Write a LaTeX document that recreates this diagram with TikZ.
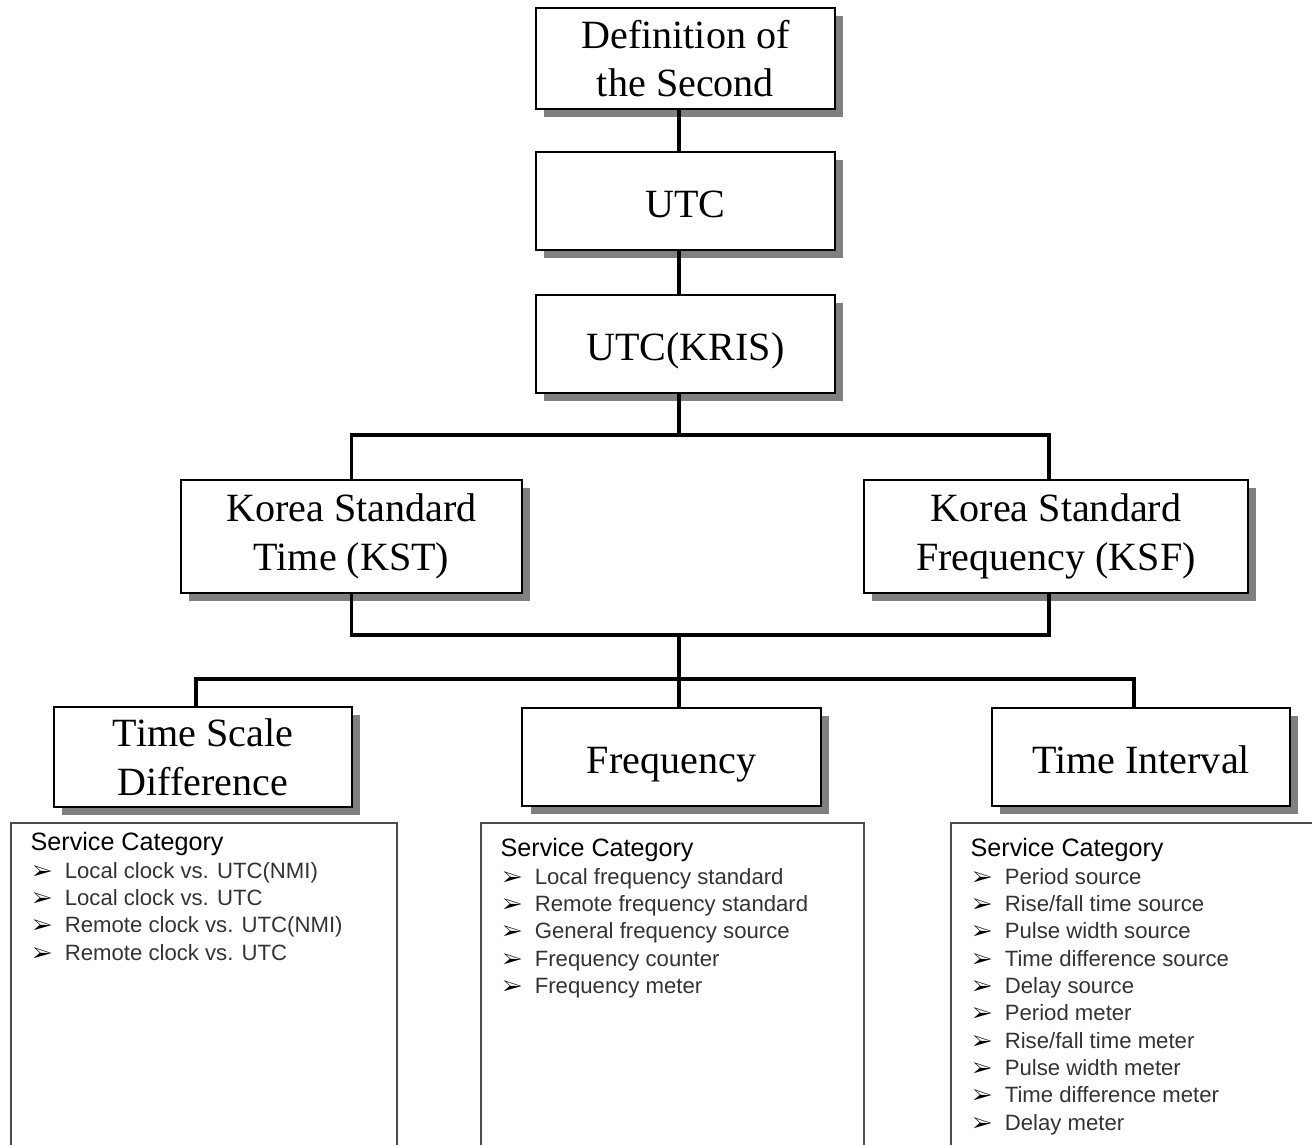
\documentclass[tikz,border=0pt]{standalone}
\usepackage{fontspec}
\usepackage{pifont}
\setmainfont{Liberation Serif}
\setsansfont{Liberation Sans}
\usetikzlibrary{shapes, arrows, shadows, calc, positioning}
\definecolor{shadowgrey}{rgb}{0.5, 0.5, 0.5}
\definecolor{listgrey}{rgb}{0.3, 0.3, 0.3}
\definecolor{itemgrey}{rgb}{0.2, 0.2, 0.2}
\newcommand{\svcitem}[1]{\\\hspace*{0.6pt}\makebox[9.1pt][l]{\fontsize{6}{6}\selectfont\ding{226}}{\fontsize{6.3}{7.77}\selectfont\color{itemgrey}#1}}

\begin{document}
\begin{tikzpicture}[x=0.01cm, y=-0.01cm,
    box/.style = {draw, line width=0.6pt, fill=white, align=center,
      font=\fontsize{11.4}{13.8}\selectfont,
      drop shadow={shadow xshift=2.3pt, shadow yshift=-2.3pt, fill=shadowgrey, opacity=1}},
    oneline/.style = {text height=10pt, text depth=0.8pt},
    listbox/.style = {draw=listgrey, line width=0.5pt, anchor=north west, minimum height=4cm},
    listtxt/.style = {anchor=north west, inner sep=0pt, align=left,
      font=\sffamily\fontsize{7.15}{7.77}\selectfont},
    link/.style = {line width=1pt}]
  \path[use as bounding box, clip] (0,0) rectangle (1312,1144);
  \begin{scope}[every node/.style = {minimum height=0.98cm}]
    \node[box, minimum width=2.99cm] (def) at (685.5,58.5) {Definition of\\the Second};
    \node[box, oneline, minimum width=2.99cm] (utc) at (685.5,201) {UTC};
    \node[box, oneline, minimum width=2.99cm] (kris) at (685.5,344) {UTC(KRIS)};
    \node[box, minimum width=3.41cm, minimum height=1.13cm] (kst) at (351.5,536.5) {Korea Standard\\Time (KST)};
    \node[box, minimum width=3.84cm, minimum height=1.13cm] (ksf) at (1056,536.5) {Korea Standard\\Frequency (KSF)};
    \node[box, minimum width=2.98cm] (tsd) at (203,757) {Time Scale\\Difference};
    \foreach \nm/\x/\txt in {freq/671.5/{Frequency}, ti/1141/{Time Interval}}{
      \node[box, oneline, minimum width=2.98cm] (\nm) at (\x,757) {\txt};
    }
  \end{scope}
  \node[listbox, minimum width=3.86cm] (tsdlist) at (10,822) {};
  \node[listbox, minimum width=3.83cm] (freqlist) at (480,822) {};
  \node[listbox, minimum width=3.9cm] (tilist) at (950,822) {};
  \node[listtxt] (tsdtxt) at (30,832) {Service Category
    \svcitem{Local clock vs. UTC(NMI)}
    \svcitem{Local clock vs. UTC}
    \svcitem{Remote clock vs. UTC(NMI)}
    \svcitem{Remote clock vs. UTC}};
  \node[listtxt] (freqtxt) at (500,838) {Service Category
    \svcitem{Local frequency standard}
    \svcitem{Remote frequency standard}
    \svcitem{General frequency source}
    \svcitem{Frequency counter}
    \svcitem{Frequency meter}};
  \node[listtxt] (titxt) at (970,838) {Service Category
    \svcitem{Period source}
    \svcitem{Rise/fall time source}
    \svcitem{Pulse width source}
    \svcitem{Time difference source}
    \svcitem{Delay source}
    \svcitem{Period meter}
    \svcitem{Rise/fall time meter}
    \svcitem{Pulse width meter}
    \svcitem{Time difference meter}
    \svcitem{Delay meter}};
  \coordinate (top) at (679,435);
  \coordinate (mid) at (679,635);
  \coordinate (low) at (679,679);
  \draw[link] (def.south -| top) -- (utc.north -| top);
  \draw[link] (utc.south -| top) -- (kris.north -| top);
  \draw[link] (kris.south -| top) -- (top);
  \draw[link] (kst.north) |- (top) -| ([xshift=-0.07cm]ksf.north);
  \draw[link] (kst.south) |- (mid) -| ([xshift=-0.07cm]ksf.south);
  \draw[link] (mid) -- (low);
  \draw[link] ([xshift=-0.07cm]tsd.north) |- (low) -| ([xshift=-0.07cm]ti.north);
  \draw[link] (low) -- (freq.north -| low);
\end{tikzpicture}
\end{document}
